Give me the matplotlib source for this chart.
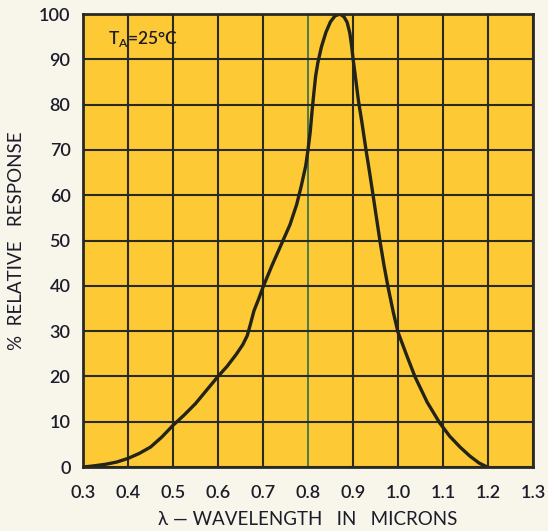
import matplotlib.pyplot as plt

# spectral response curve
wavelength = [0.300, 0.320, 0.350, 0.375, 0.400, 0.425, 0.450, 0.475, 0.500, 0.525,
              0.550, 0.575, 0.600, 0.620, 0.640, 0.655, 0.665, 0.672, 0.680, 0.690,
              0.700, 0.720, 0.740, 0.760, 0.775, 0.785, 0.795, 0.800, 0.805, 0.809,
              0.813, 0.817, 0.822, 0.830, 0.840, 0.850, 0.860, 0.871, 0.880, 0.887,
              0.893, 0.897, 0.900, 0.905, 0.912, 0.920, 0.929, 0.937, 0.945, 0.953,
              0.960, 0.969, 0.978, 0.990, 1.000, 1.020, 1.038, 1.065, 1.093, 1.115,
              1.138, 1.160, 1.180, 1.198]
response = [0, 0.2, 0.6, 1.1, 1.9, 3.0, 4.4, 6.6, 9.2, 11.5,
            14.0, 17.0, 20.0, 22.2, 24.8, 27.0, 29.0, 31.5, 34.5, 37.0,
            39.7, 44.5, 49.0, 53.5, 58.0, 62.0, 66.5, 70.0, 74.0, 78.5,
            82.5, 86.3, 89.3, 92.8, 96.0, 98.3, 99.6, 100.0, 99.4, 98.2,
            95.8, 93.0, 90.3, 86.5, 81.0, 76.0, 70.0, 65.0, 59.8, 54.5,
            49.9, 44.5, 39.7, 34.0, 29.8, 24.5, 19.9, 14.3, 9.7, 6.8,
            4.4, 2.4, 0.9, 0]

xticks = [0.3, 0.4, 0.5, 0.6, 0.7, 0.8, 0.9, 1.0, 1.1, 1.2, 1.3]
xlabels = ['0.3', '0.4', '0.5', '0.6', '0.7', '0.8', '0.9', '1.0', '1.1', '1.2', '1.3']
yticks = [0, 10, 20, 30, 40, 50, 60, 70, 80, 90, 100]

plt.rcParams['font.family'] = ['Lato', 'DejaVu Sans']
plt.rcParams['font.weight'] = 'semibold'

ink = '#1c1c2a'

fig = plt.figure(figsize=(5.48, 5.31), dpi=100, facecolor='#f8f5ea')
ax = fig.add_axes([0.1515, 0.1205, 0.821, 0.853])
ax.set_facecolor('#fdca36')

ax.set_xlim(0.3, 1.3)
ax.set_ylim(0, 100)
ax.set_xticks(xticks)
ax.set_xticklabels(xlabels)
ax.set_yticks(yticks)

ax.grid(True, color='#2b2a20', linewidth=1.5)
for gl in ax.get_xgridlines():
    if abs(gl.get_xdata()[0] - 0.8) < 1e-6:
        gl.set_color('#2f6a55')
        gl.set_linewidth(1.2)
ax.set_axisbelow(True)

for s in ax.spines.values():
    s.set_color('#2b2a20')
    s.set_linewidth(2)

ax.tick_params(length=0, labelsize=13, colors=ink)
ax.tick_params(axis='x', pad=13)
ax.tick_params(axis='y', pad=9)

ax.plot(wavelength, response, color='#232318', linewidth=2.4,
        solid_capstyle='round', solid_joinstyle='round')

ax.text(0.355, 94.5, r'T$_\mathregular{A}$=25°C', fontsize=12.5, color=ink,
        ha='left', va='center')

ax.set_xlabel('λ — WAVELENGTH   IN   MICRONS', fontsize=13.5,
              color=ink, labelpad=7)
ax.set_ylabel('%  RELATIVE   RESPONSE', fontsize=13.5, color=ink,
              labelpad=10)

fig.savefig('out.png', dpi=100, facecolor=fig.get_facecolor())
